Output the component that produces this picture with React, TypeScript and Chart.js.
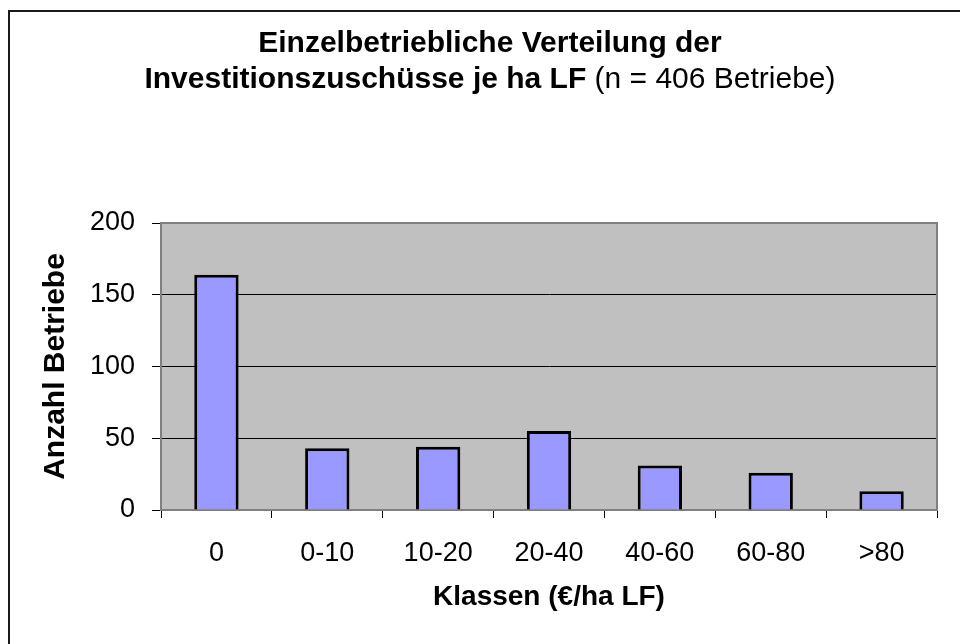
import React, { useEffect, useRef } from "react";
import { Chart, registerables } from "chart.js";

Chart.register(...registerables);

const categories = ["0", "0-10", "10-20", "20-40", "40-60", "60-80", ">80"];
const counts = [164, 43, 44, 55, 31, 26, 13];
const yTickValues = [0, 50, 100, 150, 200];
const titleLine1 = "Einzelbetriebliche Verteilung der";
const titleLine2Bold = "Investitionszuschüsse je ha LF";
const titleLine2Normal = " (n = 406 Betriebe)";
const xAxisTitle = "Klassen (€/ha LF)";
const yAxisTitle = "Anzahl Betriebe";

const FONT = '"Liberation Sans", Arial, Helvetica, sans-serif';

const decoPlugin = {
  id: "deco",
  beforeDraw(chart: any) {
    const { ctx, chartArea } = chart;
    const { left, top, right, bottom } = chartArea;
    ctx.save();
    ctx.fillStyle = "#ffffff";
    ctx.fillRect(0, 0, chart.width, chart.height);
    // outer frame (left and top edges visible)
    ctx.fillStyle = "#1a1a1a";
    ctx.fillRect(8, 10, 2, chart.height - 10);
    ctx.fillRect(8, 10, chart.width - 8, 2);
    // plot background
    ctx.fillStyle = "#C0C0C0";
    ctx.fillRect(left, top, right - left, bottom - top);
    ctx.restore();
  },
  beforeDatasetsDraw(chart: any) {
    const { ctx, chartArea } = chart;
    const { left, top, right, bottom } = chartArea;
    ctx.save();
    ctx.strokeStyle = "#808080";
    ctx.lineWidth = 2;
    ctx.strokeRect(left, top, right - left, bottom - top);
    ctx.restore();
  },
  afterDraw(chart: any) {
    const { ctx } = chart;
    const cx = 490;
    const size = 30;
    ctx.save();
    ctx.fillStyle = "#000";
    ctx.textBaseline = "alphabetic";
    ctx.font = `bold ${size}px ${FONT}`;
    ctx.textAlign = "center";
    ctx.fillText(titleLine1, cx, 52);
    ctx.textAlign = "left";
    ctx.font = `bold ${size}px ${FONT}`;
    const w1 = ctx.measureText(titleLine2Bold).width;
    ctx.font = `${size}px ${FONT}`;
    const w2 = ctx.measureText(titleLine2Normal).width;
    const startX = cx - (w1 + w2) / 2;
    ctx.font = `bold ${size}px ${FONT}`;
    ctx.fillText(titleLine2Bold, startX, 88);
    ctx.font = `${size}px ${FONT}`;
    ctx.fillText(titleLine2Normal, startX + w1, 88);
    ctx.restore();
  },
};

export default function App() {
  const canvasRef = useRef<HTMLCanvasElement | null>(null);

  useEffect(() => {
    const canvas = canvasRef.current;
    if (!canvas) return;
    const chart = new Chart(canvas, {
      type: "bar",
      data: {
        labels: categories,
        datasets: [
          {
            data: counts,
            backgroundColor: "#9999FF",
            borderColor: "#000000",
            borderWidth: 3,
            barPercentage: 0.4,
            categoryPercentage: 1,
          },
        ],
      },
      options: {
        responsive: false,
        animation: false,
        devicePixelRatio: 1,
        layout: { padding: { top: 223, right: 23, left: 0, bottom: 0 } },
        plugins: {
          legend: { display: false },
          tooltip: { enabled: false },
          title: { display: false },
        },
        scales: {
          x: {
            type: "category",
            offset: true,
            grid: {
              offset: true,
              drawOnChartArea: false,
              drawTicks: true,
              tickLength: 8,
              color: "#000",
              tickColor: "#000",
            },
            border: { display: true, color: "#808080", width: 2 },
            ticks: {
              padding: 19,
              color: "#000",
              font: { family: FONT, size: 27 },
              maxRotation: 0,
              minRotation: 0,
              autoSkip: false,
            },
            title: {
              display: true,
              text: xAxisTitle,
              color: "#000",
              font: { family: FONT, size: 28, weight: "bold" },
              padding: { top: 0, bottom: 30 },
            },
            afterFit(scale: any) {
              scale.height = 134;
            },
          },
          y: {
            min: 0,
            max: 200,
            afterBuildTicks(scale: any) {
              scale.ticks = yTickValues.map((v) => ({ value: v }));
            },
            grid: {
              color: "#000",
              lineWidth: 1,
              drawTicks: true,
              tickLength: 9,
              tickColor: "#000",
            },
            border: { display: true, color: "#808080", width: 2 },
            ticks: {
              padding: 17,
              color: "#000",
              font: { family: FONT, size: 27 },
            },
            title: {
              display: true,
              text: yAxisTitle,
              color: "#000",
              font: { family: FONT, size: 30, weight: "bold" },
              padding: { top: 38, bottom: 0 },
            },
            afterFit(scale: any) {
              scale.width = 161;
            },
          },
        },
      } as any,
      plugins: [decoPlugin],
    });
    return () => chart.destroy();
  }, []);

  return (
    <div style={{ position: "fixed", left: 0, top: 0, width: 960, height: 644, overflow: "hidden", background: "#fff" }}>
      <canvas ref={canvasRef} width={960} height={644} style={{ width: 960, height: 644, display: "block" }} />
    </div>
  );
}
